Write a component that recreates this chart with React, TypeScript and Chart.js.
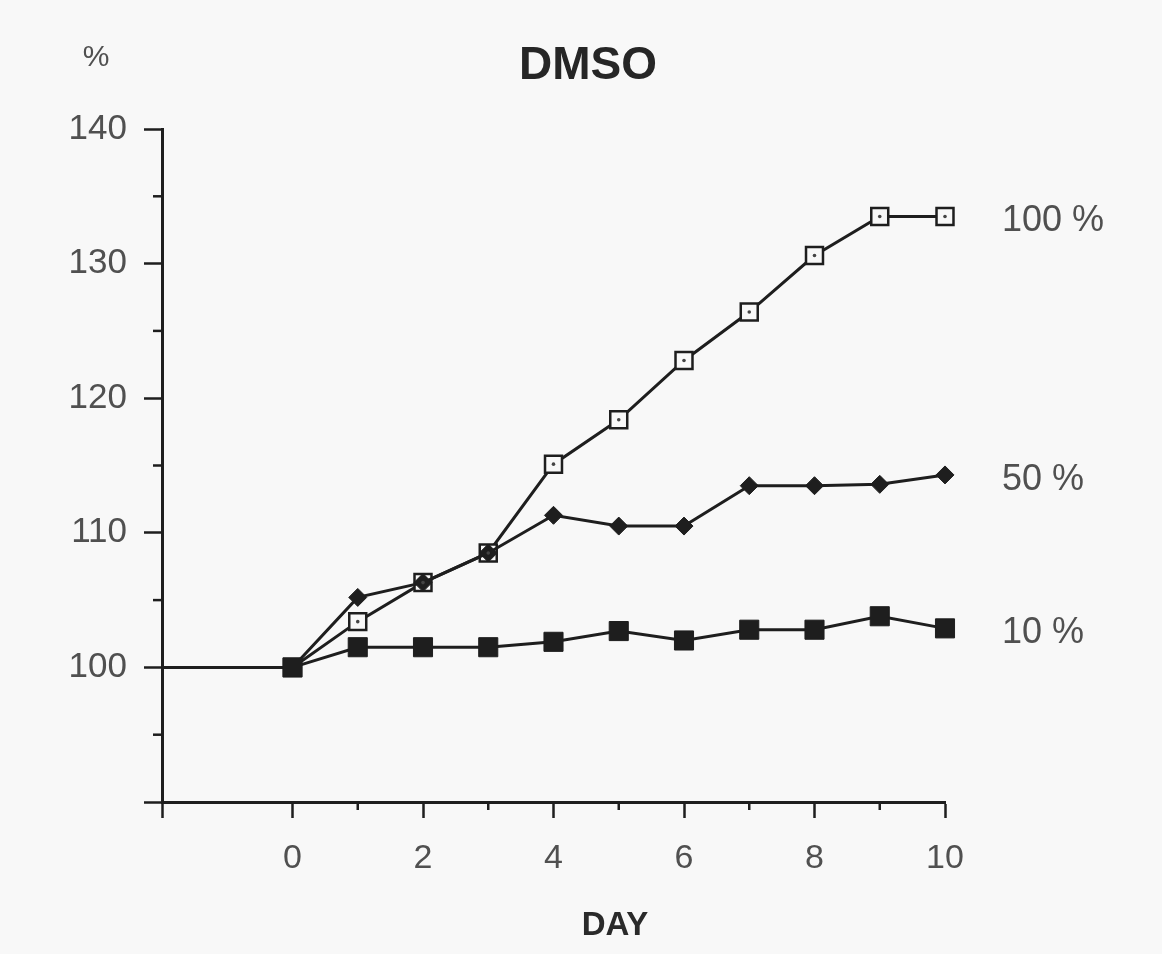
import React, { useEffect, useRef } from 'react';
import { Chart, registerables } from 'chart.js';

Chart.register(...registerables);

// ---- data ----
const days = [0, 1, 2, 3, 4, 5, 6, 7, 8, 9, 10];
const pct100 = [100, 103.4, 106.3, 108.5, 115.1, 118.4, 122.8, 126.4, 130.6, 133.5, 133.5];
const pct50 = [100, 105.2, 106.3, 108.5, 111.3, 110.5, 110.5, 113.5, 113.5, 113.6, 114.3];
const pct10 = [100, 101.5, 101.5, 101.5, 101.9, 102.7, 102.0, 102.8, 102.8, 103.8, 102.9];
const baselineDays = [-2, 0];
const baselineValues = [100, 100];
const seriesLabels = ['100 %', '50 %', '10 %'];
const xTickLabels = ['0', '2', '4', '6', '8', '10'];
const yTickLabels = ['100', '110', '120', '130', '140'];
const chartTitle = 'DMSO';
const yUnit = '%';
const xTitle = 'DAY';

const BG = '#f8f8f8';
const INK = '#1e1e1e';
const GREY = '#505050';
const FONT = '"Liberation Sans", Arial, Helvetica, sans-serif';

const toPoints = (xs: number[], ys: number[]) => xs.map((x, i) => ({ x, y: ys[i] }));

const annotate = {
  id: 'annotate',
  afterDraw(chart: any) {
    const { ctx, scales } = chart;
    const x = scales.x;
    const y = scales.y;
    ctx.save();
    // minor ticks
    ctx.strokeStyle = INK;
    ctx.lineWidth = 2.5;
    y.ticks.forEach((t: any) => {
      if (t.value % 10 !== 0) {
        const py = y.getPixelForValue(t.value);
        ctx.beginPath();
        ctx.moveTo(x.left, py);
        ctx.lineTo(x.left - 9, py);
        ctx.stroke();
      }
    });
    x.ticks.forEach((t: any) => {
      if (t.value > 0 && t.value % 2 !== 0) {
        const px = x.getPixelForValue(t.value);
        ctx.beginPath();
        ctx.moveTo(px, y.bottom);
        ctx.lineTo(px, y.bottom + 8);
        ctx.stroke();
      }
    });
    // title, unit and axis title
    ctx.fillStyle = '#262626';
    ctx.textBaseline = 'middle';
    ctx.textAlign = 'center';
    ctx.font = `bold 46px ${FONT}`;
    ctx.fillText(chartTitle, 588, 66);
    ctx.fillStyle = '#2a2a2a';
    ctx.font = `bold 33px ${FONT}`;
    ctx.fillText(xTitle, 615, 926);
    ctx.fillStyle = GREY;
    ctx.font = `30px ${FONT}`;
    ctx.fillText(yUnit, 96, 58);
    // series labels
    const lastVals = [pct100[pct100.length - 1], pct50[pct50.length - 1], pct10[pct10.length - 1]];
    const lx = x.getPixelForValue(days[days.length - 1]) + 57;
    ctx.textAlign = 'left';
    ctx.font = `36px ${FONT}`;
    seriesLabels.forEach((s, i) => {
      ctx.fillText(s, lx, y.getPixelForValue(lastVals[i]) + 5);
    });
    ctx.restore();
  },
};

export default function App() {
  const ref = useRef<HTMLCanvasElement | null>(null);

  useEffect(() => {
    if (!ref.current) return;
    const chart = new Chart(ref.current, {
      type: 'line',
      data: {
        datasets: [
          {
            label: seriesLabels[2],
            data: toPoints(days, pct10),
            borderColor: INK,
            borderWidth: 3,
            pointStyle: 'rect',
            pointRadius: 13.5,
            pointBackgroundColor: INK,
            pointBorderColor: INK,
            pointBorderWidth: 1,
            tension: 0,
            clip: false,
          },
          {
            label: 'dots',
            data: toPoints(days, pct100),
            showLine: false,
            pointStyle: 'circle',
            pointRadius: 1.8,
            pointBackgroundColor: '#444',
            pointBorderWidth: 0,
            clip: false,
          },
          {
            label: seriesLabels[1],
            data: toPoints(days, pct50),
            borderColor: INK,
            borderWidth: 3,
            pointStyle: 'rectRot',
            pointRadius: 9,
            pointBackgroundColor: INK,
            pointBorderColor: INK,
            pointBorderWidth: 1,
            tension: 0,
            clip: false,
          },
          {
            label: seriesLabels[0],
            data: toPoints(days, pct100),
            borderColor: INK,
            borderWidth: 3,
            pointStyle: 'rect',
            pointRadius: 12,
            pointBackgroundColor: BG,
            pointBorderColor: INK,
            pointBorderWidth: 2.5,
            tension: 0,
            clip: false,
          },
          {
            label: 'baseline',
            data: toPoints(baselineDays, baselineValues),
            borderColor: INK,
            borderWidth: 3,
            pointRadius: 0,
            tension: 0,
            clip: false,
          },
        ],
      },
      options: {
        responsive: false,
        animation: false,
        devicePixelRatio: 1,
        layout: { padding: { left: 0, right: 217, top: 129, bottom: 0 }, autoPadding: false },
        plugins: {
          legend: { display: false },
          tooltip: { enabled: false },
          title: { display: false },
        },
        scales: {
          x: {
            type: 'linear',
            min: -2,
            max: 10,
            afterFit: (s: any) => {
              s.height = 152;
            },
            ticks: {
              stepSize: 1,
              autoSkip: false,
              maxRotation: 0,
              padding: 20,
              color: GREY,
              font: { family: FONT, size: 34 },
              callback: (v: any) => (xTickLabels.includes(String(v)) ? String(v) : ''),
            },
            grid: {
              drawOnChartArea: false,
              drawTicks: true,
              tickLength: 16,
              tickWidth: 2.5,
              tickColor: (c: any) => (c.tick && c.tick.value % 2 === 0 ? INK : 'rgba(0,0,0,0)'),
            },
            border: { display: true, color: INK, width: 3 },
          },
          y: {
            type: 'linear',
            min: 90,
            max: 140,
            afterFit: (s: any) => {
              s.width = 162;
            },
            ticks: {
              stepSize: 5,
              autoSkip: false,
              padding: 17,
              color: GREY,
              font: { family: FONT, size: 35 },
              callback: (v: any) => (yTickLabels.includes(String(v)) ? String(v) : ''),
            },
            grid: {
              drawOnChartArea: false,
              drawTicks: true,
              tickLength: 18,
              tickWidth: 2.5,
              tickColor: (c: any) => (c.tick && c.tick.value % 10 === 0 ? INK : 'rgba(0,0,0,0)'),
            },
            border: { display: true, color: INK, width: 3 },
          },
        },
      },
      plugins: [annotate],
    } as any);
    return () => chart.destroy();
  }, []);

  return (
    <div style={{ position: 'absolute', left: 0, top: 0, width: 1162, height: 954, background: BG }}>
      <canvas ref={ref} width={1162} height={954} />
    </div>
  );
}
